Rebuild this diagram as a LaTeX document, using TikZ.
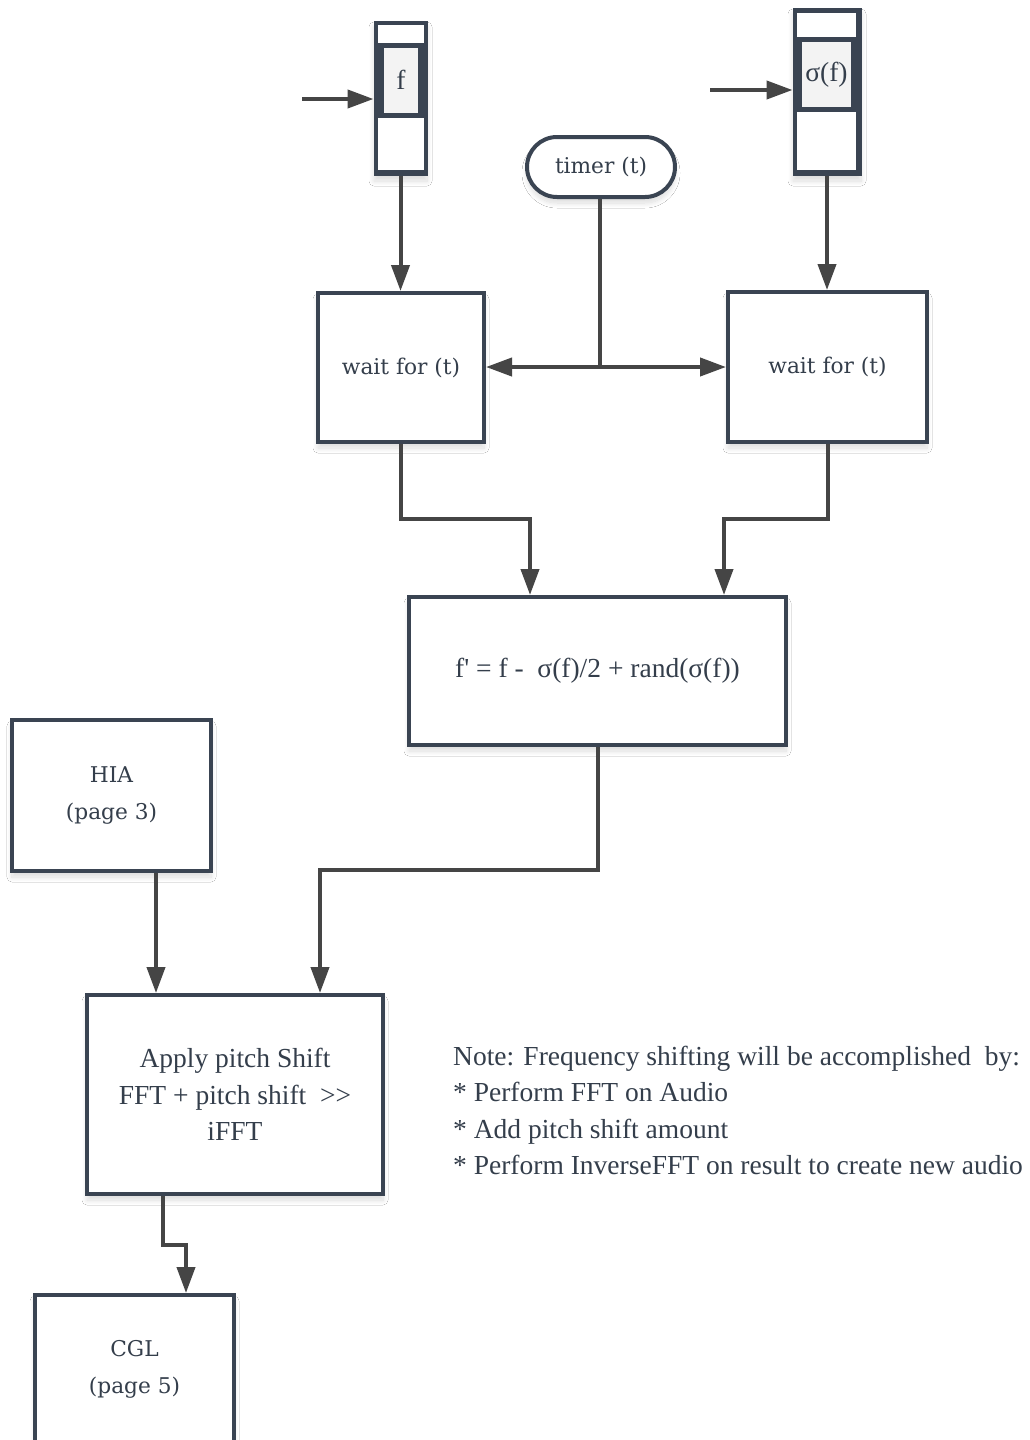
\documentclass[tikz,border=0pt]{standalone}
\usepackage{fontspec}
\setmainfont{Liberation Serif}
\newfontfamily\lblfont{DejaVu Serif}
\newfontfamily\tmsfont{Liberation Serif}
\usetikzlibrary{arrows.meta,shadows.blur}

\definecolor{frame}{HTML}{3A4452}
\definecolor{wirecol}{HTML}{454545}
\definecolor{ink}{HTML}{343E4B}
\definecolor{cellfill}{HTML}{F3F3F3}

\tikzset{
  softshadow/.style={blur shadow={shadow xshift=0pt, shadow yshift=-6pt,
      shadow opacity=14, shadow blur radius=5pt, shadow blur steps=12}},
  box/.style={draw=frame, line width=4pt, fill=white, inner sep=0pt,
      text=ink, align=center, softshadow},
  lbltext/.style={font=\lblfont\fontsize{21.7}{36.5}\selectfont},
  tmstext/.style={font=\tmsfont\fontsize{27.5}{36.5}\selectfont},
  stackbox/.style={draw=frame, fill=frame, line width=1pt, inner sep=0pt, softshadow},
  cellbox/.style={fill=cellfill, inner sep=0pt, text=ink, tmstext},
  link/.style={draw=wirecol, line width=4pt, -{Triangle[length=26pt,width=18pt]}},
  plainlink/.style={draw=wirecol, line width=4pt},
}

\begin{document}
\begin{tikzpicture}[x=1pt, y=-1pt]
  \useasboundingbox[fill=white] (0,0) rectangle (1030,1440);

  % ---- input queue for f ----
  \node[stackbox, minimum width=53pt, minimum height=154pt] (fq) at (400.5,98) {};
  \fill[white] (378,25) rectangle (424,43);
  \fill[white] (378,118) rectangle (424,170);
  \node[cellbox, minimum width=34pt, minimum height=65pt] (fc) at (401,80.5) {\raisebox{2pt}{f}};

  % ---- input queue for sigma(f) ----
  \node[stackbox, minimum width=68pt, minimum height=167pt] (sq) at (827,91.5) {};
  \fill[white] (797,13) rectangle (856,37);
  \fill[white] (797,112) rectangle (856,170);
  \node[cellbox, minimum width=49pt, minimum height=65pt] (sc) at (826.5,74.5) {σ(f)};

  % ---- timer ----
  \node[box, rounded corners=30pt, minimum width=148pt, minimum height=60pt, lbltext]
    (tm) at (601,167) {timer (t)};

  % ---- wait stages ----
  \node[box, minimum width=166pt, minimum height=149pt, lbltext] (wl) at (401,367.5) {wait for (t)};
  \node[box, minimum width=199pt, minimum height=150pt, lbltext] (wr) at (827.5,367) {wait for (t)};

  % ---- frequency update ----
  \node[box, minimum width=377pt, minimum height=148pt, tmstext] (fm) at (597.5,671)
    {f' = f -\ \ σ(f)/2 + rand(σ(f))};

  % ---- side inputs and pitch shift ----
  \node[box, minimum width=199pt, minimum height=151pt, lbltext] (hia) at (111.5,795.5)
    {HIA\\(page 3)};
  \node[box, minimum width=296pt, minimum height=199pt, tmstext] (ap) at (235,1094.5)
    {Apply pitch Shift\\FFT + pitch shift\ \ >>\\iFFT};
  \node[box, minimum width=199pt, minimum height=149pt, lbltext] (cgl) at (134.5,1369.5)
    {CGL\\(page 5)};

  % ---- note ----
  \node[anchor=west, align=left, inner sep=0pt, text=ink, tmstext] (note) at (453,1110.5)
    {Note: Frequency shifting will be accomplished\ \ by:\\
     * Perform FFT on Audio\\
     * Add pitch shift amount\\
     * Perform InverseFFT on result to create new audio};

  % ---- connectors ----
  \coordinate (in1) at (302,99);
  \coordinate (in2) at (710,90);
  \draw[link] (in1) -- (in1 -| fq.west);
  \draw[link] (in2) -- (in2 -| sq.west);

  \draw[link] (fq.south) -- (fq.south |- wl.north);
  \draw[link] (sq.south) -- (sq.south |- wr.north);

  \coordinate (jt) at (600,367);
  \draw[plainlink] (tm.south -| jt) -- (jt);
  \draw[link] (jt) -- (jt -| wl.east);
  \draw[link] (jt) -- (jt -| wr.west);

  \coordinate (k1) at (530,519);
  \coordinate (k2) at (724,519);
  \draw[link] (wl.south) |- (k1) -- (k1 |- fm.north);
  \draw[link] (wr.south) |- (k2) -- (k2 |- fm.north);

  \coordinate (k3) at (320,870);
  \draw[link] (fm.south) |- (k3) -- (k3 |- ap.north);

  \coordinate (k4) at (156,0);
  \draw[link] (k4 |- hia.south) -- (k4 |- ap.north);

  \coordinate (k5) at (163,1245);
  \coordinate (k6) at (186,1245);
  \draw[link] (k5 |- ap.south) -- (k5) -- (k6) -- (k6 |- cgl.north);
\end{tikzpicture}
\end{document}
